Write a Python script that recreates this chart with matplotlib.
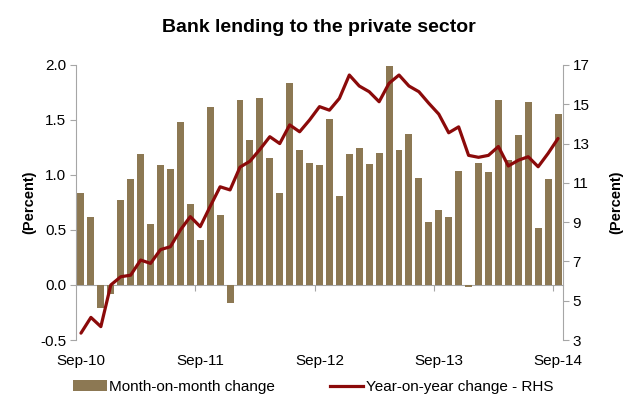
import numpy as np
import pandas as pd
import matplotlib
matplotlib.use('Agg')
import matplotlib.pyplot as plt
from matplotlib.patches import Patch
from matplotlib.lines import Line2D
import matplotlib.transforms as mtransforms

plt.rcParams['font.family'] = ['Liberation Sans', 'DejaVu Sans']

# monthly categories Sep-10 .. Sep-14
months = pd.date_range('2010-09-01', periods=49, freq='MS').strftime('%b-%y').tolist()

# month-on-month change (percent, LHS)
mom = [0.84, 0.62, -0.21, -0.08, 0.77, 0.96, 1.19, 0.55, 1.09, 1.05, 1.48, 0.74,
       0.41, 1.62, 0.64, -0.16, 1.68, 1.32, 1.70, 1.15, 0.84, 1.84, 1.23, 1.11,
       1.09, 1.51, 0.81, 1.19, 1.245, 1.10, 1.20, 1.99, 1.23, 1.37, 0.97, 0.57,
       0.68, 0.62, 1.04, -0.02, 1.11, 1.03, 1.68, 1.14, 1.36, 1.66, 0.52, 0.96,
       1.55]

# year-on-year change (percent, RHS)
yoy = [3.35, 4.15, 3.68, 5.8, 6.22, 6.3, 7.07, 6.9, 7.6, 7.75, 8.6, 9.28,
       8.77, 9.8, 10.8, 10.64, 11.8, 12.1, 12.7, 13.35, 13.0, 13.95, 13.6, 14.2,
       14.88, 14.7, 15.3, 16.49, 15.93, 15.64, 15.13, 16.07, 16.49, 15.93, 15.64, 15.05,
       14.5, 13.55, 13.85, 12.4, 12.3, 12.4, 12.85, 11.86, 12.15, 12.33, 11.82, 12.5,
       13.26]

bar_color = '#8C7853'
line_color = '#8B0A0A'
axis_gray = '#A6A6A6'

fig = plt.figure(figsize=(6.38, 4.12), dpi=100)
ax = fig.add_axes([76/638, 1 - 340/412, (563-76)/638, (340-65)/412])
x = np.arange(len(months))

ax.bar(x, mom, width=0.7, color=bar_color, zorder=2)
ax.set_xlim(-0.5, len(months) - 0.5)
ax.set_ylim(-0.5, 2.0)
ax.set_yticks([-0.5, 0.0, 0.5, 1.0, 1.5, 2.0])
ax.set_yticklabels(['%.1f' % v for v in [-0.5, 0.0, 0.5, 1.0, 1.5, 2.0]])

ax2 = ax.twinx()
ax2.plot(x, yoy, color=line_color, lw=2.3, solid_joinstyle='round',
         solid_capstyle='round', zorder=3)
ax2.set_ylim(3, 17)
ax2.set_yticks(range(3, 18, 2))

# spines
for a in (ax, ax2):
    a.spines['top'].set_visible(False)
    for s in a.spines.values():
        s.set_color(axis_gray)
ax.spines['right'].set_visible(False)
ax2.spines['left'].set_visible(False)
ax2.spines['bottom'].set_visible(False)
ax.spines['bottom'].set_position(('data', 0))
ax.spines['bottom'].set_zorder(1)

# x ticks at category boundaries, every 12 months; labels below the plot
ax.set_xticks([11.5, 23.5, 35.5, 47.5])
ax.set_xticklabels([])
ax.tick_params(axis='x', direction='out', length=4, color=axis_gray)
trans = mtransforms.blended_transform_factory(ax.transData, ax.transAxes)
for i in range(0, len(months), 12):
    ax.text(i, -0.075, months[i], transform=trans, ha='center', va='center',
            fontsize=11)

ax.tick_params(axis='y', direction='out', length=4, color=axis_gray,
               labelsize=11, pad=3)
ax2.tick_params(axis='y', direction='out', length=4, color=axis_gray,
                labelsize=11, pad=3)

ax.set_ylabel('(Percent)', fontsize=10.5, fontweight='bold', labelpad=3)
ax2.set_ylabel('(Percent)', fontsize=10.5, fontweight='bold', rotation=90,
               labelpad=14)

fig.text(0.5, 1 - 27/412, 'Bank lending to the private sector', ha='center',
         va='center', fontsize=14, fontweight='bold')

handles = [Patch(facecolor=bar_color, edgecolor='none'),
           Line2D([0], [0], color=line_color, lw=2.3)]
fig.legend(handles, ['Month-on-month change', 'Year-on-year change - RHS'],
           loc='center', bbox_to_anchor=(313/638, 1 - 387/412), ncol=2,
           frameon=False, fontsize=11, handlelength=2.2, handleheight=0.7,
           handletextpad=0.15, columnspacing=3.6, borderaxespad=0)

fig.savefig('out.png', dpi=100)
